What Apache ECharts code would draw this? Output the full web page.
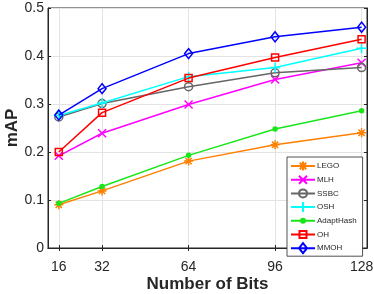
<!DOCTYPE html>
<html><head><meta charset="utf-8">
<script src="https://cdn.jsdelivr.net/npm/echarts@6/dist/echarts.min.js"></script>
<style>html,body{margin:0;padding:0;background:#fff}#c{width:374px;height:294px}</style>
</head><body><div id="c"></div>
<script>
const bits = [16, 32, 64, 96, 128];
const xTicks = [16, 32, 64, 96, 128];
const LEGO = [0.090, 0.119, 0.181, 0.215, 0.240];
const MLH = [0.192, 0.239, 0.299, 0.351, 0.386];
const SSBC = [0.273, 0.301, 0.336, 0.365, 0.376];
const OSH = [0.276, 0.302, 0.357, 0.376, 0.416];
const AdaptHash = [0.093, 0.128, 0.193, 0.248, 0.286];
const OH = [0.200, 0.282, 0.354, 0.397, 0.435];
const MMOH = [0.277, 0.332, 0.405, 0.440, 0.460];

const names = ['LEGO','MLH','SSBC','OSH','AdaptHash','OH','MMOH'];
const values = [LEGO, MLH, SSBC, OSH, AdaptHash, OH, MMOH];
const colors = ['#FF8000','#FF00FF','#666666','#00FFFF','#19E619','#FF0000','#0000FF'];
const star = 'path://M5 0 L5 10 M0 5 L10 5 M1.5 1.5 L8.5 8.5 M8.5 1.5 L1.5 8.5';
const cross = 'path://M0 0 L10 10 M10 0 L0 10';
const plus = 'path://M5 0 L5 10 M0 5 L10 5';
const symbols = [star, cross, 'circle', plus, 'circle', 'rect', 'diamond'];
const sizes = [9, 8, 8, 10, 4, 7, [8, 10]];

// legend icons: line + marker, drawn in a 24x10 box
const frame = 'M0 0 L0 0 M24 10 L24 10 M0 5 L24 5 ';
const legendIcons = [
  'path://' + frame + 'M12 0.5 L12 9.5 M7.5 5 L16.5 5 M8.8 1.8 L15.2 8.2 M15.2 1.8 L8.8 8.2',
  'path://' + frame + 'M8 1 L16 9 M16 1 L8 9',
  'path://' + frame + 'M16 5 A4 4 0 1 1 8 5 A4 4 0 1 1 16 5 Z',
  'path://' + frame + 'M12 0 L12 10 M7 5 L17 5',
  'path://' + frame + 'M14 5 A2 2 0 1 1 10 5 A2 2 0 1 1 14 5 Z',
  'path://' + frame + 'M8.5 1.5 L15.5 1.5 L15.5 8.5 L8.5 8.5 Z',
  'path://' + frame + 'M12 0 L16 5 L12 10 L8 5 Z'
];

const font = 'Liberation Sans, Arial, Helvetica, sans-serif';
const axisColor = '#262626';

const series = names.map((n, i) => ({
  name: n,
  type: 'line',
  data: bits.map((b, j) => [b, values[i][j]]),
  symbol: symbols[i],
  symbolSize: sizes[i],
  showAllSymbol: true,
  lineStyle: { color: colors[i], width: 1.5 },
  itemStyle: {
    color: (n === 'AdaptHash') ? colors[i] : 'rgba(0,0,0,0)',
    borderColor: colors[i],
    borderWidth: 1.5
  },
  emphasis: { disabled: true },
  animation: false,
  z: 3 + i
}));

const chart = echarts.init(document.getElementById('c'), null, { renderer: 'canvas' });
chart.setOption({
  animation: false,
  grid: { left: 48, right: 7, top: 8, bottom: 46, show: true, borderColor: axisColor, borderWidth: 1, backgroundColor: '#fff', containLabel: false, outerBoundsMode: 'none' },
  legend: {
    orient: 'vertical',
    left: 287, top: 157,
    data: names.map((n, i) => ({ name: n, icon: legendIcons[i] })),
    itemWidth: 24, itemHeight: 10, itemGap: 1.7,
    padding: [3, 6, 2, 3],
    backgroundColor: '#fff',
    borderColor: axisColor, borderWidth: 0.8,
    textStyle: { fontFamily: font, fontSize: 8, color: axisColor, padding: [0, 0, 0, -3] },
    selectedMode: false
  },
  xAxis: [{
    type: 'value', min: 12, max: 130,
    name: 'Number of Bits', nameLocation: 'middle', nameGap: 28, nameMoveOverlap: false,
    nameTextStyle: { fontFamily: font, fontSize: 17, fontWeight: 'bold', color: axisColor },
    axisLine: { show: true, lineStyle: { color: axisColor, width: 1 } },
    axisTick: { show: true, inside: true, length: 3, customValues: xTicks, lineStyle: { color: axisColor } },
    axisLabel: { customValues: xTicks, fontFamily: font, fontSize: 14, color: axisColor, margin: 12 },
    splitLine: { show: true, lineStyle: { color: '#e3e3e3', width: 1 } }
  }, {
    type: 'value', min: 12, max: 130, position: 'top',
    axisLine: { show: true, lineStyle: { color: axisColor } },
    axisTick: { show: true, inside: true, length: 3, customValues: xTicks, lineStyle: { color: axisColor } },
    axisLabel: { show: false },
    splitLine: { show: false }
  }],
  yAxis: [{
    type: 'value', min: 0, max: 0.5, interval: 0.1,
    name: 'mAP', nameLocation: 'middle', nameGap: 27, nameMoveOverlap: false,
    nameTextStyle: { fontFamily: font, fontSize: 17, fontWeight: 'bold', color: axisColor },
    axisLine: { show: true, lineStyle: { color: axisColor, width: 1 } },
    axisTick: { show: true, inside: true, length: 3, lineStyle: { color: axisColor } },
    axisLabel: { fontFamily: font, fontSize: 14, color: axisColor, margin: 4 },
    splitLine: { show: true, lineStyle: { color: '#e3e3e3', width: 1 } }
  }, {
    type: 'value', min: 0, max: 0.5, interval: 0.1, position: 'right',
    axisLine: { show: true, lineStyle: { color: axisColor } },
    axisTick: { show: true, inside: true, length: 3, lineStyle: { color: axisColor } },
    axisLabel: { show: false },
    splitLine: { show: false }
  }],
  series: series
});
</script></body></html>
